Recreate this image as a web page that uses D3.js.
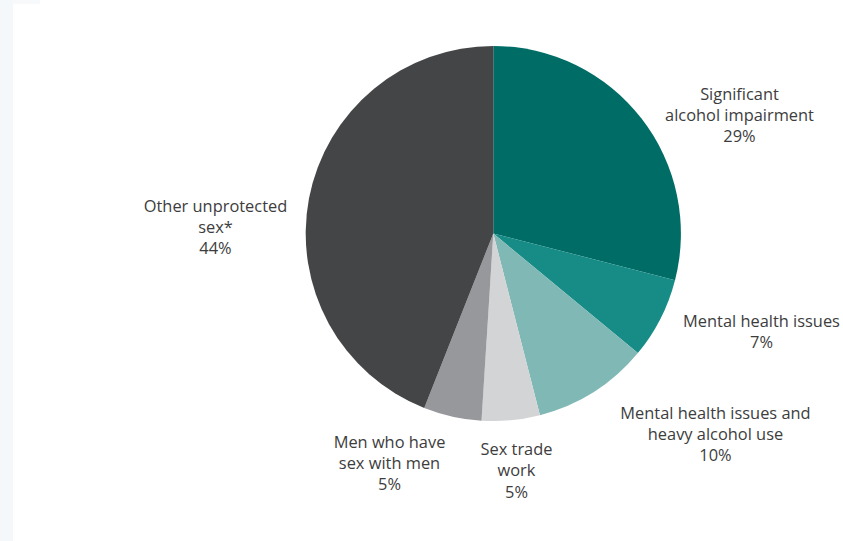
<!DOCTYPE html>
<html>
<head>
<meta charset="utf-8">
<script src="https://cdn.jsdelivr.net/npm/d3@7/dist/d3.min.js"></script>
<style>
  html, body { margin: 0; padding: 0; background: #ffffff; }
  svg { display: block; }
  text { font-family: "Open Sans", "Noto Sans", sans-serif; font-size: 16.4px; fill: #3d3d3d; }
</style>
</head>
<body>
<svg id="chart" width="843" height="541"></svg>
<script>
// Categories (label lines) and their shares, in drawing order clockwise from 12 o'clock
const categories = [
  ["Significant", "alcohol impairment"],
  ["Mental health issues"],
  ["Mental health issues and", "heavy alcohol use"],
  ["Sex trade", "work"],
  ["Men who have", "sex with men"],
  ["Other unprotected", "sex*"]
];
const values = [29, 7, 10, 5, 5, 44];
const valueLabels = ["29%", "7%", "10%", "5%", "5%", "44%"];

// Slice colours
const colors = ["#006c66", "#178c87", "#80b8b5", "#d3d4d6", "#97989b", "#444547"];

// Label anchors (centre x, first baseline y)
const labelAnchors = [
  [739.5, 99.5],
  [761.5, 327],
  [715.5, 418.5],
  [516.5, 455],
  [389.5, 447.5],
  [215.5, 211.5]
];
const lineHeight = 21.3;

const svg = d3.select("#chart");

// faint page margin strips
svg.append("rect").attr("x", 0).attr("y", 0).attr("width", 13).attr("height", 541).attr("fill", "#f5f8fa");
svg.append("rect").attr("x", 13).attr("y", 0).attr("width", 27).attr("height", 4).attr("fill", "#f7f9fa");

const cx = 493.3, cy = 233.5, radius = 187.6;

const pie = d3.pie().sort(null).value(d => d);
const arc = d3.arc().innerRadius(0).outerRadius(radius);

const g = svg.append("g").attr("transform", `translate(${cx},${cy})`);
g.selectAll("path")
  .data(pie(values))
  .join("path")
  .attr("d", arc)
  .attr("fill", (d, i) => colors[i]);

const labels = svg.append("g");
categories.forEach((lines, i) => {
  const t = labels.append("text")
    .attr("text-anchor", "middle")
    .attr("x", labelAnchors[i][0])
    .attr("y", labelAnchors[i][1]);
  lines.concat([valueLabels[i]]).forEach((line, j) => {
    t.append("tspan")
      .attr("x", labelAnchors[i][0])
      .attr("y", labelAnchors[i][1] + j * lineHeight)
      .text(line);
  });
});
</script>
</body>
</html>
